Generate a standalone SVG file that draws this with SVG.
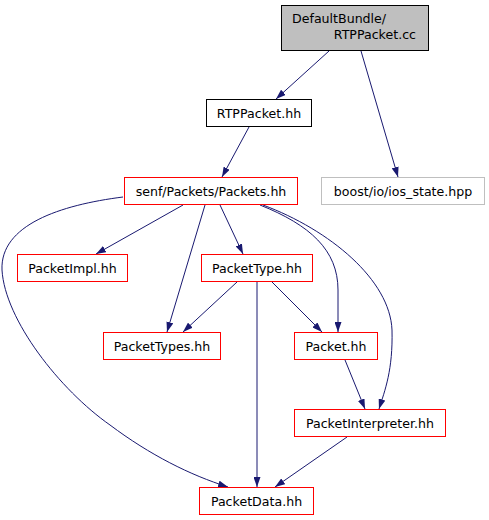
<svg xmlns="http://www.w3.org/2000/svg" width="489" height="520" viewBox="0 0 489 520">
<style>
text{font-family:"DejaVu Sans","Liberation Sans",sans-serif;font-size:12.6px;fill:#000;text-anchor:middle}
.n rect{fill:#fff;stroke:#ff0000;stroke-width:1}
.e path{fill:none;stroke:#191970;stroke-width:1}
</style>
<defs>
<marker id="a" viewBox="0 0 10 7" refX="10" refY="3.5" markerWidth="10" markerHeight="7" markerUnits="userSpaceOnUse" orient="auto">
<path d="M0,0 L10,3.5 L0,7 z" fill="#191970"/>
</marker>
</defs>
<rect width="489" height="520" fill="#fff"/>
<g class="e">
<path d="M329,51 L276,99" marker-end="url(#a)"/>
<path d="M361,51 L398,177" marker-end="url(#a)"/>
<path d="M249,127 L222,177" marker-end="url(#a)"/>
<path d="M183,205 L96,254" marker-end="url(#a)"/>
<path d="M205,205 L167,332" marker-end="url(#a)"/>
<path d="M220,205 L243,254" marker-end="url(#a)"/>
<path d="M260,205 C310,225 338,250 338,290 L338,332" marker-end="url(#a)"/>
<path d="M263,205 C330,230 390,280 392,330 C393,370 385,390 379,409" marker-end="url(#a)"/>
<path d="M123,197 C60,205 0,225 2,270 C5,320 60,390 110,425 C150,455 190,475 228,487" marker-end="url(#a)"/>
<path d="M237,282 L183,332" marker-end="url(#a)"/>
<path d="M257,282 L257,487" marker-end="url(#a)"/>
<path d="M272,282 L322,332" marker-end="url(#a)"/>
<path d="M345,360 L365,409" marker-end="url(#a)"/>
<path d="M347,437 L275,487" marker-end="url(#a)"/>
</g>
<g id="root"><rect x="281.5" y="5.5" width="147" height="45" fill="#bfbfbf" stroke="#000"/>
<text x="292" y="23" style="text-anchor:start">DefaultBundle/</text>
<text x="416" y="39" style="text-anchor:end">RTPPacket.cc</text></g>
<g id="rtppacket_hh"><rect x="206.5" y="99.5" width="105" height="27" fill="#fff" stroke="#000"/><text x="259" y="118">RTPPacket.hh</text></g>
<g id="boost"><rect x="321.5" y="177.5" width="163" height="27" fill="#fff" stroke="#bfbfbf"/><text x="403" y="196">boost/io/ios_state.hpp</text></g>
<g id="packets_hh" class="n"><rect x="124.5" y="177.5" width="173" height="27"/><text x="211" y="196">senf/Packets/Packets.hh</text></g>
<g id="packetimpl" class="n"><rect x="17.5" y="254.5" width="110" height="27"/><text x="72.5" y="273">PacketImpl.hh</text></g>
<g id="packettype" class="n"><rect x="201.5" y="254.5" width="111" height="27"/><text x="257" y="273">PacketType.hh</text></g>
<g id="packettypes" class="n"><rect x="103.5" y="332.5" width="117" height="27"/><text x="162" y="351">PacketTypes.hh</text></g>
<g id="packet" class="n"><rect x="294.5" y="332.5" width="83" height="27"/><text x="336" y="351">Packet.hh</text></g>
<g id="packetinterpreter" class="n"><rect x="294.5" y="409.5" width="151" height="27"/><text x="370" y="428">PacketInterpreter.hh</text></g>
<g id="packetdata" class="n"><rect x="199.5" y="487.5" width="114" height="27"/><text x="256.5" y="506">PacketData.hh</text></g>
</svg>
